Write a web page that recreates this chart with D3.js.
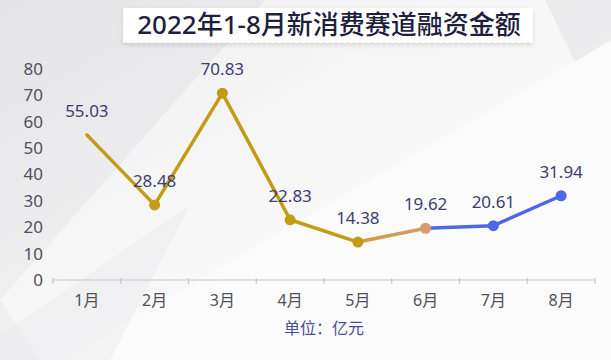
<!DOCTYPE html>
<html>
<head>
<meta charset="utf-8">
<script src="https://cdn.jsdelivr.net/npm/d3@7"></script>
<style>
  body { margin: 0; background: #fff; }
  svg { display: block; }
  text { font-family: "Noto Sans", "Noto Sans CJK SC", sans-serif; }
</style>
</head>
<body>
<div id="chart"></div>
<script>
// data
var months = ["1月", "2月", "3月", "4月", "5月", "6月", "7月", "8月"];
var amounts = [55.03, 28.48, 70.83, 22.83, 14.38, 19.62, 20.61, 31.94];
var yTicks = [0, 10, 20, 30, 40, 50, 60, 70, 80];
var title = "2022年1-8月新消费赛道融资金额";
var unitLabel = "单位：亿元";

var width = 611, height = 360;
var gold = "#c49b14", salmon = "#d99a6e", blue = "#4d68e4";

const svg = d3.select("#chart").append("svg")
  .attr("width", width)
  .attr("height", height);

// background
var defs = svg.append("defs");
var bg = defs.append("linearGradient").attr("id", "bg")
  .attr("x1", "0").attr("y1", "0").attr("x2", "1").attr("y2", "1");
bg.append("stop").attr("offset", "0").attr("stop-color", "#e3e3e5");
bg.append("stop").attr("offset", "0.5").attr("stop-color", "#f1f1f2");
bg.append("stop").attr("offset", "1").attr("stop-color", "#f6f6f7");
svg.append("rect").attr("width", width).attr("height", height).attr("fill", "url(#bg)");

svg.append("path").attr("d", "M0,300 L265,0 L611,0 L611,360 L40,360 Z")
  .attr("fill", "#ffffff").attr("opacity", 0.45);
svg.append("path").attr("d", "M60,360 L611,40 L611,360 Z")
  .attr("fill", "#ffffff").attr("opacity", 0.4);
svg.append("path").attr("d", "M545,0 L611,0 L611,40 L575,62 Z")
  .attr("fill", "#e2e2e4").attr("opacity", 0.5);
svg.append("path").attr("d", "M0,360 L0,335 L190,205 L110,360 Z")
  .attr("fill", "#e8e8ea").attr("opacity", 0.4);

// title box
var shadow = defs.append("filter").attr("id", "sh").attr("x", "-10%").attr("y", "-30%").attr("width", "120%").attr("height", "170%");
shadow.append("feDropShadow").attr("dx", 0).attr("dy", 2).attr("stdDeviation", 2).attr("flood-color", "#000").attr("flood-opacity", 0.12);
svg.append("rect").attr("x", 123).attr("y", 8).attr("width", 410).attr("height", 35)
  .attr("fill", "#ffffff").attr("filter", "url(#sh)");
svg.append("line").attr("x1", 125).attr("x2", 531).attr("y1", 43).attr("y2", 43)
  .attr("stroke", "#d4d4d8").attr("stroke-width", 1.2).attr("stroke-dasharray", "2,4");
svg.append("text")
  .attr("x", 329).attr("y", 34)
  .attr("text-anchor", "middle")
  .attr("font-family", "'Noto Sans CJK SC', sans-serif")
  .attr("font-weight", 500)
  .attr("font-size", 26)
  .attr("fill", "#1f1f3d")
  .text(title);

// scales
const x = d3.scaleBand().domain(months).range([53, 595]);
const y = d3.scaleLinear().domain([0, 80]).range([280, 69]);
const cx = d => x(d) + x.bandwidth() / 2;

// y axis labels
const yAxis = svg.append("g")
  .attr("transform", "translate(43,0)")
  .call(d3.axisLeft(y).tickValues(yTicks).tickSize(0).tickPadding(0));
yAxis.select(".domain").remove();
yAxis.selectAll("text")
  .attr("font-size", 17)
  .attr("fill", "#50505c")
  .attr("font-family", "'Noto Sans', sans-serif");

// x axis
const xg = svg.append("g").attr("transform", "translate(0,280)");
xg.append("line").attr("x1", x.range()[0]).attr("x2", x.range()[1])
  .attr("stroke", "#c9c9cf").attr("stroke-width", 1.2);
var edges = months.map(m => x(m)).concat([x.range()[1]]);
xg.selectAll(".tk").data(edges).join("line")
  .attr("class", "tk")
  .attr("x1", d => d).attr("x2", d => d)
  .attr("y1", -2).attr("y2", 4)
  .attr("stroke", "#c9c9cf").attr("stroke-width", 1.2);
xg.selectAll(".xl").data(months).join("text")
  .attr("class", "xl")
  .attr("x", d => cx(d))
  .attr("y", 26)
  .attr("text-anchor", "middle")
  .attr("font-size", 16)
  .attr("fill", "#50505c")
  .attr("font-family", "'Noto Sans CJK SC', sans-serif")
  .text(d => d);

svg.append("text")
  .attr("x", (x.range()[0] + x.range()[1]) / 2)
  .attr("y", 334)
  .attr("text-anchor", "middle")
  .attr("font-size", 16)
  .attr("fill", "#4b4ba0")
  .attr("font-family", "'Noto Sans CJK SC', sans-serif")
  .text(unitLabel);

// line segments
var pts = months.map((m, i) => ({ m: m, v: amounts[i], i: i }));
function segColor(i) {
  if (i < 4) return gold;
  if (i == 4) return "url(#seg5)";
  return blue;
}
var g5 = defs.append("linearGradient").attr("id", "seg5")
  .attr("gradientUnits", "userSpaceOnUse")
  .attr("x1", cx(months[4])).attr("y1", y(amounts[4]))
  .attr("x2", cx(months[5])).attr("y2", y(amounts[5]));
g5.append("stop").attr("offset", "0").attr("stop-color", "#cf9d3a");
g5.append("stop").attr("offset", "1").attr("stop-color", salmon);

const line = d3.line().x(d => cx(d.m)).y(d => y(d.v));
// drawn back to front so earlier segments sit on top
var segs = d3.range(pts.length - 1).map(i => ({ i: i, p: [pts[i], pts[i + 1]] }));
svg.append("g").selectAll("path").data(segs.slice().reverse()).join("path")
  .attr("d", d => line(d.p))
  .attr("fill", "none")
  .attr("stroke", d => segColor(d.i))
  .attr("stroke-width", 3.5)
  .attr("stroke-linecap", "round")
  .attr("stroke-linejoin", "round");

// dots
function dotColor(i) {
  if (i <= 4) return gold;
  if (i == 5) return salmon;
  return blue;
}
svg.append("g").selectAll("circle").data(pts.filter(d => d.i > 0)).join("circle")
  .attr("cx", d => cx(d.m))
  .attr("cy", d => y(d.v))
  .attr("r", 5.5)
  .attr("fill", d => dotColor(d.i));

// value labels
svg.append("g").selectAll("text").data(pts).join("text")
  .attr("x", d => cx(d.m))
  .attr("y", d => y(d.v) - 18)
  .attr("text-anchor", "middle")
  .attr("font-size", 17)
  .attr("fill", "#3d3d72")
  .text(d => d.v.toFixed(2));
</script>
</body>
</html>
